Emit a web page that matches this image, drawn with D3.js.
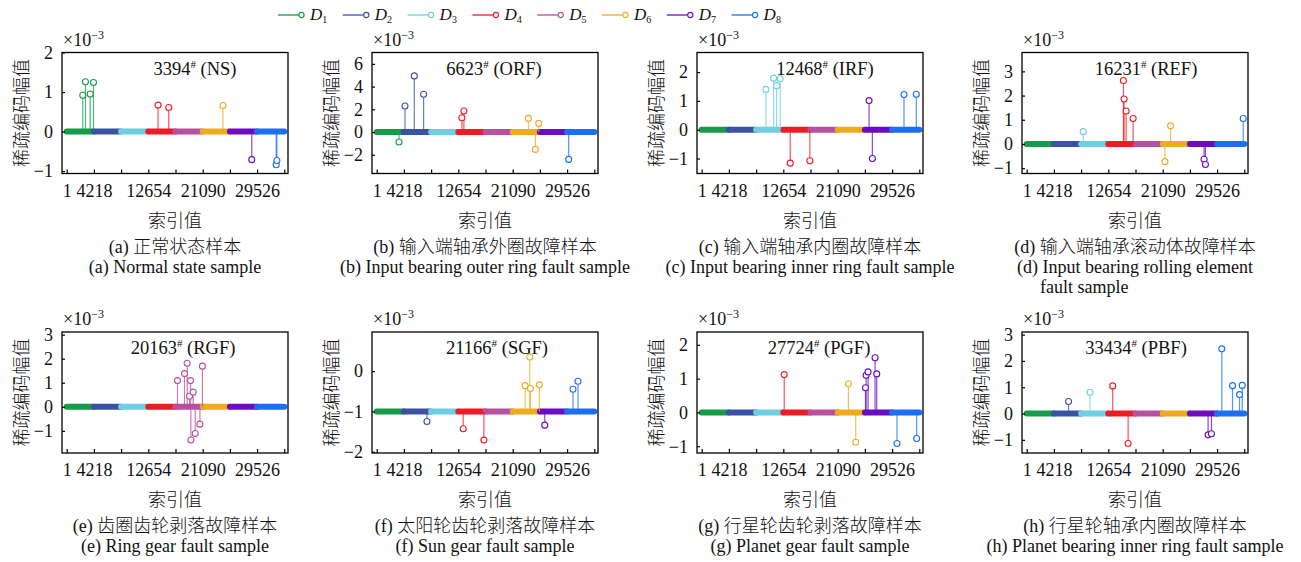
<!DOCTYPE html>
<html>
<head>
<meta charset="utf-8">
<script src="https://cdn.jsdelivr.net/npm/d3@7"></script>
<style>
body { margin: 0; background: #fff; }
text { font-family: "Liberation Serif", "Times New Roman", "Noto Sans CJK SC", serif; fill: #111; }
.zh { font-family: "Liberation Serif", "Noto Sans CJK SC", sans-serif; font-weight: 300; }
</style>
</head>
<body>
<script>
// dictionaries
var dictNames = ["1", "2", "3", "4", "5", "6", "7", "8"];
var dictSize = 4218;
var xTicks = [1, 4218, 8436, 12654, 16872, 21090, 25308, 29526, 33744];
var xTickLabels = ["1", "4218", "", "12654", "", "21090", "", "29526", ""];

// samples
var sampleIds = ["3394", "6623", "12468", "16231", "20163", "21166", "27724", "33434"];
var faultCodes = ["NS", "ORF", "IRF", "REF", "RGF", "SGF", "PGF", "PBF"];
var captionsZh = ["(a) 正常状态样本", "(b) 输入端轴承外圈故障样本", "(c) 输入端轴承内圈故障样本", "(d) 输入端轴承滚动体故障样本",
                  "(e) 齿圈齿轮剥落故障样本", "(f) 太阳轮齿轮剥落故障样本", "(g) 行星轮齿轮剥落故障样本", "(h) 行星轮轴承内圈故障样本"];
var captionsEn = ["(a) Normal state sample", "(b) Input bearing outer ring fault sample", "(c) Input bearing inner ring fault sample",
                  "(d) Input bearing rolling element|fault sample", "(e) Ring gear fault sample", "(f) Sun gear fault sample",
                  "(g) Planet gear fault sample", "(h) Planet bearing inner ring fault sample"];
var yDomains = [[-1.06, 2], [-3.65, 7], [-1.52, 2.68], [-1.22, 3.78], [-1.92, 3.11], [-2.03, 0.97], [-1.2, 2.38], [-1.5, 3.1]];
var yTicks = [[-1, 0, 1, 2], [-2, 0, 2, 4, 6], [-1, 0, 1, 2], [-1, 0, 1, 2, 3], [-1, 0, 1, 2, 3], [-2, -1, 0], [-1, 0, 1, 2], [-1, 0, 1, 2, 3]];
var baselines = [0, 0, 0, 0, 0, -1, 0, 0];

// non-zero sparse coefficients: [index, value x1e-3]
var atomsNS  = [[2491, 0.92], [2906, 1.26], [3633, 0.95], [4152, 1.24], [14169, 0.67], [15830, 0.61], [24237, 0.66], [28700, -0.71], [32489, -0.84], [32593, -0.73]];
var atomsORF = [[3457, -0.88], [4386, 2.29], [5831, 4.94], [7276, 3.32], [13210, 1.26], [13519, 1.85], [23530, 1.2], [24613, -1.53], [25129, 0.76], [29773, -2.41]];
var atomsIRF = [[9959, 1.40], [11146, 1.79], [11610, 1.53], [12178, 1.77], [13726, -1.16], [16770, -1.08], [25955, 1.01], [26471, -1.0], [31373, 1.22], [33282, 1.23]];
var atomsREF = [[8771, 0.51], [15000, 2.62], [15103, 1.86], [15414, 1.36], [16504, 1.05], [21435, -0.73], [22317, 0.75], [27507, -0.63], [27715, -0.85], [33579, 1.05]];
var atomsRGF = [[17179, 1.09], [18269, 1.38], [18684, 1.81], [19047, 0.44], [19203, 1.09], [19255, -1.38], [19618, 0.61], [19930, -1.11], [20656, -0.72], [21050, 1.69]];
var atomsSGF = [[7792, -1.25], [13416, -1.43], [16615, -1.71], [23014, -0.36], [23736, 0.35], [23839, -0.43], [25232, -0.34], [26058, -1.34], [30444, -0.45], [31218, -0.25]];
var atomsPGF = [[12797, 1.12], [22756, 0.85], [23891, -0.88], [25400, 0.73], [25500, 1.1], [25800, 1.2], [26884, 1.62], [27142, 1.14], [30289, -0.92], [33334, -0.77]];
var atomsPBF = [[6488, 0.46], [9809, 0.81], [13338, 1.05], [15726, -1.14], [28130, -0.81], [28649, -0.77], [30258, 2.46], [31919, 1.06], [33008, 0.72], [33424, 1.07]];
var allAtoms = [atomsNS, atomsORF, atomsIRF, atomsREF, atomsRGF, atomsSGF, atomsPGF, atomsPBF];

var dictColors = ["#179b48", "#3a52a3", "#6fcfe0", "#ed1c24", "#b5519f", "#efab20", "#6c0cc2", "#1c6ff4"];

var width = 1301,
    height = 562;

var svg = d3.select("body").append("svg")
    .attr("width", width)
    .attr("height", height);

// layout
var plotLefts = [62, 372, 697, 1022],
    rowTops = [52.5, 332],
    plotW = 226,
    plotH = 121;
var annoDx = [133, 122, 128, 124, 121, 125, 122, 114];

// legend
var legend = svg.append("g");
dictNames.forEach(function (n, i) {
    var x0 = 278 + i * 64.8;
    legend.append("line")
        .attr("x1", x0).attr("x2", x0 + 21)
        .attr("y1", 15).attr("y2", 15)
        .attr("stroke", dictColors[i]).attr("stroke-width", 1.3);
    legend.append("circle")
        .attr("cx", x0 + 23.5).attr("cy", 15).attr("r", 2.6)
        .attr("fill", "white").attr("stroke", dictColors[i]).attr("stroke-width", 1.1);
    var t = legend.append("text").attr("x", x0 + 32).attr("y", 20).attr("font-size", 17);
    t.append("tspan").attr("font-style", "italic").text("D");
    t.append("tspan").attr("font-size", 10).attr("dy", 3).text(n);
});

allAtoms.forEach(function (atoms, i) {
    var row = Math.floor(i / 4), col = i % 4;
    var L = plotLefts[col], T = rowTops[row];
    var g = svg.append("g");

    var x = d3.scaleLinear().domain([-730, 34320]).range([L, L + plotW]);
    var y = d3.scaleLinear().domain(yDomains[i]).range([T + plotH, T]);
    var base = baselines[i];

    // zero coefficients drawn as a thick band per dictionary
    d3.range(8).forEach(function (k) {
        g.append("line")
            .attr("x1", x(k === 0 ? 1 : k * dictSize))
            .attr("x2", x((k + 1) * dictSize))
            .attr("y1", y(base)).attr("y2", y(base))
            .attr("stroke", dictColors[k])
            .attr("stroke-width", 6)
            .attr("stroke-linecap", "round");
    });

    var stems = g.selectAll(".stem").data(atoms).enter();
    stems.append("line")
        .attr("class", "stem")
        .attr("x1", function (d) { return x(d[0]); })
        .attr("x2", function (d) { return x(d[0]); })
        .attr("y1", y(base))
        .attr("y2", function (d) { return y(d[1]); })
        .attr("stroke", function (d) { return dictColors[Math.floor(d[0] / dictSize)]; })
        .attr("stroke-opacity", 0.75)
        .attr("stroke-width", 1.2);
    g.selectAll(".mk").data(atoms).enter().append("circle")
        .attr("class", "mk")
        .attr("cx", function (d) { return x(d[0]); })
        .attr("cy", function (d) { return y(d[1]); })
        .attr("r", 3)
        .attr("fill", "white")
        .attr("stroke", function (d) { return dictColors[Math.floor(d[0] / dictSize)]; })
        .attr("stroke-width", 1.1);

    // axes
    var xa = g.append("g")
        .attr("transform", "translate(0," + (T + plotH) + ")")
        .call(d3.axisBottom(x).tickValues(xTicks).tickSizeInner(-4).tickSizeOuter(0)
            .tickFormat(function (d, j) { return xTickLabels[j]; }));
    xa.select(".domain").remove();
    xa.attr("font-family", null).attr("font-size", 18);
    xa.selectAll("line").attr("stroke-width", 1.2);
    xa.selectAll("text").attr("y", 23).attr("dy", null).attr("fill", "#111");

    var ya = g.append("g")
        .attr("transform", "translate(" + L + ",0)")
        .call(d3.axisLeft(y).tickValues(yTicks[i]).tickSizeInner(-3).tickSizeOuter(0).tickPadding(9)
            .tickFormat(d3.format("d")));
    ya.select(".domain").remove();
    ya.attr("font-family", null).attr("font-size", 18);
    ya.selectAll("line").attr("stroke-width", 1.2);
    ya.selectAll("text").attr("fill", "#111");

    g.append("rect")
        .attr("x", L).attr("y", T).attr("width", plotW).attr("height", plotH)
        .attr("fill", "none").attr("stroke", "#000").attr("stroke-width", 1.3);

    // x10^-3
    var sc = g.append("text").attr("x", L + 1).attr("y", T - 7).attr("font-size", 18);
    sc.append("tspan").text("×10");
    sc.append("tspan").attr("font-size", 12).attr("dy", -7).text("−3");

    // sample annotation
    var an = g.append("text").attr("x", L + annoDx[i]).attr("y", T + 22)
        .attr("text-anchor", "middle").attr("font-size", 18.5);
    an.append("tspan").text(sampleIds[i]);
    an.append("tspan").attr("font-size", 11).attr("dy", -7).text("#");
    an.append("tspan").attr("dy", 7).text(" (" + faultCodes[i] + ")");

    g.append("text").attr("class", "zh")
        .attr("transform", "translate(" + (L - 40) + "," + (T + plotH / 2) + ") rotate(-90)")
        .attr("text-anchor", "middle").attr("dominant-baseline", "central")
        .attr("font-size", 18).text("稀疏编码幅值");

    g.append("text").attr("class", "zh")
        .attr("x", L + plotW / 2).attr("y", T + plotH + 53)
        .attr("text-anchor", "middle").attr("font-size", 18).text("索引值");

    g.append("text").attr("class", "zh")
        .attr("x", L + plotW / 2).attr("y", T + 200)
        .attr("text-anchor", "middle").attr("font-size", 18).text(captionsZh[i]);

    var en = captionsEn[i].split("|");
    g.append("text")
        .attr("x", L + plotW / 2).attr("y", T + 220)
        .attr("text-anchor", "middle").attr("font-size", 18).text(en[0]);
    if (en.length > 1) {
        g.append("text")
            .attr("x", L + 18).attr("y", T + 240)
            .attr("font-size", 18).text(en[1]);
    }
});
</script>
</body>
</html>
